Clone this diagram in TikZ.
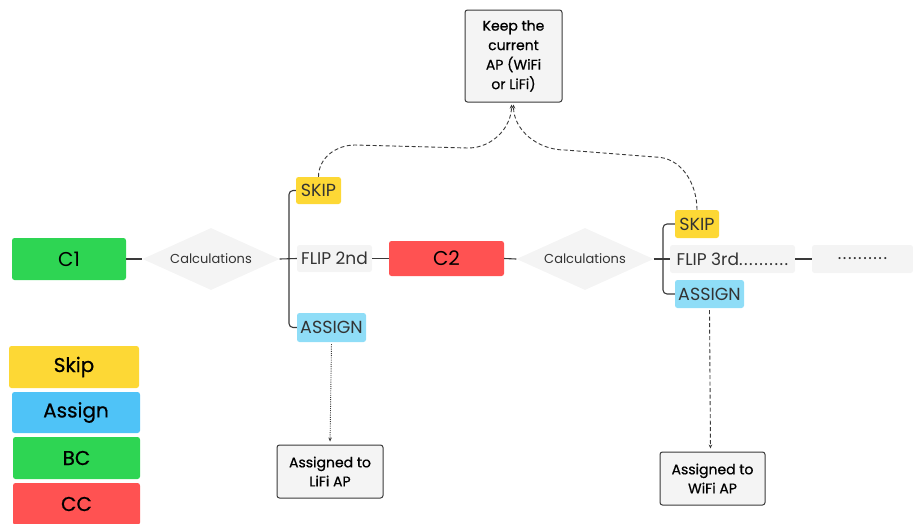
\documentclass[tikz,border=0pt]{standalone}
\usepackage{fontspec}
\setmainfont{Poppins}
\usetikzlibrary{shapes.geometric,arrows.meta}
\definecolor{cyel}{HTML}{FDD835}
\definecolor{cblue}{HTML}{8FDDF7}
\definecolor{cblueL}{HTML}{4FC3F7}
\definecolor{cgreen}{HTML}{2ED553}
\definecolor{cred}{HTML}{FF5252}
\definecolor{cgray}{HTML}{F4F4F4}
\definecolor{ctext}{HTML}{333333}
\definecolor{cline}{HTML}{3A3A3A}
\newcommand{\dotrun}{.\kern1.5pt.\kern1.5pt.\kern1.5pt.\kern1.5pt.\kern1.5pt.\kern1.5pt.\kern1.5pt.\kern1.5pt.\kern1.5pt.}
\tikzset{
  box/.style={rounded corners=2.5pt, inner sep=0pt, align=center, text=ctext},
  dia/.style={diamond, fill=cgray, aspect=2.2, inner sep=0pt, minimum width=137pt, minimum height=62pt, text=ctext, font=\fontsize{13}{15}\selectfont},
  lab/.style={box, fill=cgray, font=\fontsize{17}{20}\selectfont},
  skipbox/.style={box, fill=cyel, font=\fontsize{17.5}{20}\selectfont},
  asgbox/.style={box, fill=cblue, font=\fontsize{17.5}{20}\selectfont},
  outbox/.style={box, draw=cline, line width=1pt, fill=cgray, text=black, font=\fontsize{14}{19.5}\selectfont\addfontfeatures{FakeBold=0.6}},
  legbox/.style={box, text=black, minimum width=128pt, minimum height=41pt, font=\fontsize{20}{24}\selectfont\addfontfeatures{FakeBold=0.6}},
  conn/.style={draw=cline, line width=1.1pt},
  dashc/.style={draw=cline, line width=0.9pt, dash pattern=on 4pt off 2.5pt, -{Stealth[length=4pt,width=3.5pt]}},
  dotc/.style={draw=cline, line width=0.9pt, dash pattern=on 1pt off 1.2pt, -{Stealth[length=4pt,width=3.5pt]}},
}
\begin{document}
\begin{tikzpicture}[x=1pt,y=-1pt]
\useasboundingbox (0,0) rectangle (913,523);
% main row
\node[box, fill=cgreen, minimum width=114pt, minimum height=42pt, text=black, font=\fontsize{20}{22}\selectfont] (c1) at (69,259) {C1};
\node[dia] (calc1) at (211,259) {Calculations};
\node[lab, minimum width=75pt, minimum height=27pt] (flip2) at (334.5,258.5) {FLIP 2nd};
\node[skipbox, minimum width=45pt, minimum height=27pt] (skip1) at (318.5,190.5) {SKIP};
\node[asgbox, minimum width=69pt, minimum height=29pt] (asg1) at (331.5,327.5) {ASSIGN};
\node[box, fill=cred, minimum width=115pt, minimum height=35pt, text=black, font=\fontsize{20}{22}\selectfont] (c2) at (446.5,258.5) {C2};
\node[dia] (calc2) at (585,259) {Calculations};
\node[lab, minimum width=125pt, minimum height=28pt] (flip3) at (732.5,259) {FLIP 3rd\dotrun};
\node[skipbox, minimum width=44pt, minimum height=28pt] (skip2) at (697,224) {SKIP};
\node[asgbox, minimum width=69pt, minimum height=28pt] (asg2) at (709.5,294) {ASSIGN};
\node[lab, minimum width=101pt, minimum height=28pt] (dots) at (862.5,259) {\dotrun};
% outcome boxes
\node[outbox, minimum width=97pt, minimum height=92pt] (keep) at (513.5,56) {Keep the\\current\\AP (WiFi\\or LiFi)};
\node[outbox, minimum width=106pt, minimum height=53pt, font=\fontsize{14}{19}\selectfont\addfontfeatures{FakeBold=0.6}] (lifi) at (330,471.5) {Assigned to\\LiFi AP};
\node[outbox, minimum width=105pt, minimum height=53pt, font=\fontsize{14}{19}\selectfont\addfontfeatures{FakeBold=0.6}] (wifi) at (712.5,478.5) {Assigned to\\WiFi AP};
% legend
\node[legbox, fill=cyel, minimum width=130pt, minimum height=42pt] (lskip) at (74,367) {Skip};
\node[legbox, fill=cblueL] (lasg) at (76,412.5) {Assign};
\node[legbox, fill=cgreen, minimum width=127pt, minimum height=42pt] (lbc) at (76.5,458) {BC};
\node[legbox, fill=cred, minimum width=127pt, minimum height=42pt] (lcc) at (76.5,504) {CC};
% bracket coordinates
\coordinate (b1) at (289,259);
\coordinate (b2) at (663,259);
% connectors
\draw[conn] (c1.east) -- (calc1.west);
\draw[conn] (calc1.east) -- (flip2.west);
\draw[conn, rounded corners=4pt] (skip1.west) -- (b1 |- skip1.west) -- (b1 |- asg1.west) -- (asg1.west);
\draw[conn] (flip2.east) -- (c2.west);
\draw[conn] (c2.east) -- (calc2.west);
\draw[conn] (calc2.east) -- (flip3.west);
\draw[conn, rounded corners=4pt] (skip2.west) -- (b2 |- skip2.west) -- (b2 |- asg2.west) -- (asg2.west);
\draw[conn] (flip3.east) -- (dots.west);
% dashed / dotted arrows
\draw[dashc, shorten >=2pt] (skip1.north) to[out=90,in=180] (355,145) -- (468,148) to[out=0,in=-90] ([xshift=-2pt]keep.south);
\draw[dashc, shorten >=2pt] (skip2.north) to[out=90,in=0] (655,157) -- (565,150) to[out=180,in=-90] ([xshift=0pt]keep.south);
\draw[dotc, shorten <=2pt, shorten >=3pt] (asg1.south) -- (lifi.north);
\draw[dashc, shorten <=2pt, shorten >=3pt] (asg2.south) -- ([xshift=-2pt]wifi.north);
\end{tikzpicture}
\end{document}
